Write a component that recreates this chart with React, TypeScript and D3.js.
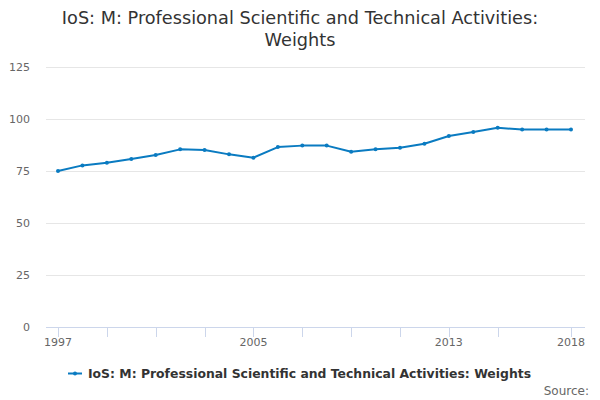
import React, { useEffect, useRef } from 'react';
import * as d3 from 'd3';

const years = [1997, 1998, 1999, 2000, 2001, 2002, 2003, 2004, 2005, 2006, 2007,
  2008, 2009, 2010, 2011, 2012, 2013, 2014, 2015, 2016, 2017, 2018];
const weights = [75.0, 77.7, 79.0, 80.8, 82.7, 85.4, 85.1, 83.0, 81.4, 86.5, 87.2,
  87.2, 84.3, 85.4, 86.2, 88.1, 91.8, 93.7, 95.8, 94.9, 94.9, 94.9];
const yTicks = [0, 25, 50, 75, 100, 125];
const xTickMarks = [1997, 1999, 2001, 2003, 2005, 2007, 2009, 2011, 2013, 2015, 2018];
const xLabels = [1997, 2005, 2013, 2018];
const seriesName = 'IoS: M: Professional Scientific and Technical Activities: Weights';

const App: React.FC = () => {
  const svgRef = useRef<SVGSVGElement>(null);

  useEffect(() => {
    if (!svgRef.current) return;
    const width = 600;
    const height = 400;
    const font = '"DejaVu Sans", Verdana, sans-serif';
    const colour = '#0a7bc1';

    d3.select(svgRef.current).selectAll('*').remove();
    const svg = d3.select(svgRef.current)
      .attr('width', width)
      .attr('height', height)
      .style('font-family', font);

    const plotLeft = 46;
    const plotRight = 585;

    const x = d3.scaleLinear().domain([1997, 2018]).range([58, 571]);
    const y = d3.scaleLinear().domain([0, 125]).range([327, 67]);

    // title
    const title = svg.append('text')
      .attr('text-anchor', 'middle')
      .attr('fill', '#333')
      .style('font-size', '17.7px');
    title.append('tspan').attr('x', width / 2).attr('y', 24)
      .text('IoS: M: Professional Scientific and Technical Activities:');
    title.append('tspan').attr('x', width / 2).attr('y', 46).text('Weights');

    // grid
    svg.append('g')
      .selectAll('line')
      .data(yTicks.filter(d => d > 0))
      .enter()
      .append('line')
      .attr('x1', plotLeft)
      .attr('x2', plotRight)
      .attr('y1', d => y(d) + 0.5)
      .attr('y2', d => y(d) + 0.5)
      .style('stroke', '#e6e6e6');

    svg.append('g')
      .selectAll('text')
      .data(yTicks)
      .enter()
      .append('text')
      .attr('x', 30)
      .attr('y', d => y(d) + 4)
      .attr('text-anchor', 'end')
      .attr('fill', '#666')
      .style('font-size', '11px')
      .text(d => d);

    // x axis
    svg.append('line')
      .attr('x1', plotLeft)
      .attr('x2', plotRight)
      .attr('y1', y(0) + 0.5)
      .attr('y2', y(0) + 0.5)
      .style('stroke', '#ccd6eb');

    svg.append('g')
      .selectAll('line')
      .data(xTickMarks)
      .enter()
      .append('line')
      .attr('x1', d => Math.round(x(d)) + 0.5)
      .attr('x2', d => Math.round(x(d)) + 0.5)
      .attr('y1', y(0))
      .attr('y2', y(0) + 10)
      .style('stroke', '#ccd6eb');

    svg.append('g')
      .selectAll('text')
      .data(xLabels)
      .enter()
      .append('text')
      .attr('x', d => x(d))
      .attr('y', 346)
      .attr('text-anchor', 'middle')
      .attr('fill', '#666')
      .style('font-size', '11px')
      .text(d => d);

    // series
    const pts = years.map((yr, i) => ({ yr, v: weights[i] }));
    const line = d3.line<{ yr: number; v: number }>()
      .x(d => x(d.yr))
      .y(d => y(d.v));

    svg.append('path')
      .datum(pts)
      .attr('d', line)
      .style('fill', 'none')
      .style('stroke', colour)
      .style('stroke-width', 2)
      .style('stroke-linejoin', 'round');

    svg.append('g')
      .selectAll('circle')
      .data(pts)
      .enter()
      .append('circle')
      .attr('cx', d => x(d.yr))
      .attr('cy', d => y(d.v))
      .attr('r', 2)
      .style('fill', colour);

    // legend
    const legend = svg.append('g');
    legend.append('line')
      .attr('x1', 68).attr('x2', 82)
      .attr('y1', 373.5).attr('y2', 373.5)
      .style('stroke', colour)
      .style('stroke-width', 2);
    legend.append('circle')
      .attr('cx', 75).attr('cy', 373.5).attr('r', 2)
      .style('fill', colour);
    legend.append('text')
      .attr('x', 88)
      .attr('y', 378)
      .attr('fill', '#333')
      .style('font-size', '12.4px')
      .style('font-weight', 'bold')
      .text(seriesName);

    svg.append('text')
      .attr('x', 589)
      .attr('y', 395)
      .attr('text-anchor', 'end')
      .attr('fill', '#666')
      .style('font-size', '12px')
      .text('Source:');
  }, []);

  return <svg ref={svgRef} style={{ display: 'block', position: 'absolute', left: 0, top: 0 }} />;
};

export default App;
